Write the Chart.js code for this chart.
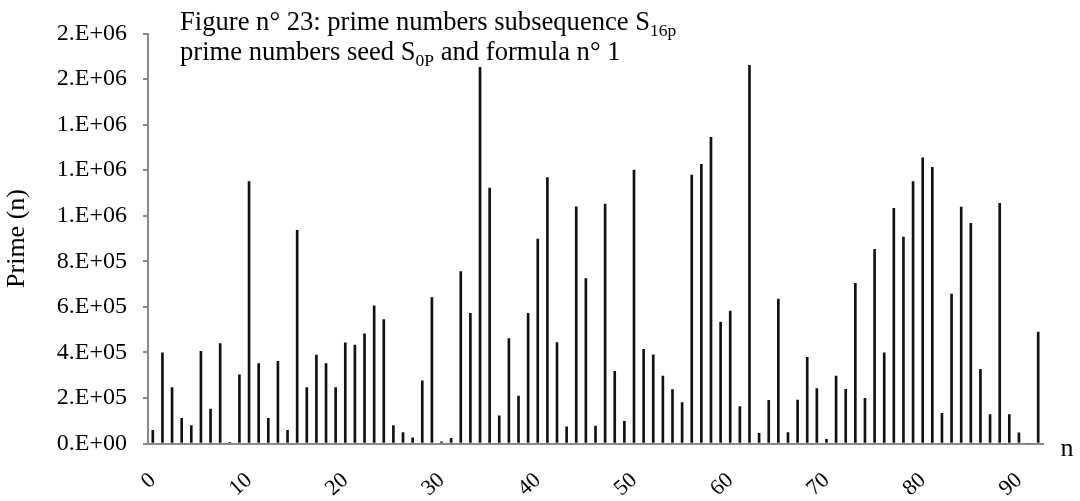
<!DOCTYPE html>
<html><head><meta charset="utf-8">
<script src="https://cdn.jsdelivr.net/npm/chart.js@4.4.0/dist/chart.umd.min.js"></script>
<style>html,body{margin:0;padding:0;background:#fff}#wrap{width:1080px;height:501px;position:relative}</style>
</head><body><div id="wrap"><canvas id="c" width="1080" height="501"></canvas></div>
<script>
const categories = ['0','1','2','3','4','5','6','7','8','9','10','11','12','13','14','15','16','17','18','19','20','21','22','23','24','25','26','27','28','29','30','31','32','33','34','35','36','37','38','39','40','41','42','43','44','45','46','47','48','49','50','51','52','53','54','55','56','57','58','59','60','61','62','63','64','65','66','67','68','69','70','71','72','73','74','75','76','77','78','79','80','81','82','83','84','85','86','87','88','89','90','91','92'];
const primeValues = [58000,398000,246000,111000,79000,405000,151000,439000,5000,301000,
1150000,351000,110000,361000,58000,936000,246000,388000,351000,246000,
442000,432000,481000,604000,544000,79000,48000,25000,275000,641000,
7000,23000,755000,571000,1651000,1121000,121000,461000,208000,571000,
897000,1168000,443000,73000,1039000,724000,77000,1051000,317000,97000,
1200000,413000,389000,296000,237000,180000,1178000,1226000,1344000,533000,
581000,162000,1660000,45000,190000,634000,48000,191000,378000,241000,
18000,296000,238000,703000,198000,853000,398000,1032000,906000,1150000,
1254000,1213000,132000,656000,1038000,967000,326000,127000,1054000,127000,
47000,0,489000];
const xTickLabels = ['0','10','20','30','40','50','60','70','80','90'];
const yTickLabels = ['0.E+00','2.E+05','4.E+05','6.E+05','8.E+05','1.E+06','1.E+06','1.E+06','2.E+06','2.E+06'];
const yTitle = 'Prime (n)';
const xTitle = 'n';
const titleLine1 = [['Figure n° 23: prime numbers subsequence S', false], ['16p', true]];
const titleLine2 = [['prime numbers seed S', false], ['0P', true], [' and formula n° 1', false]];

const FONT = "'Liberation Serif', 'Times New Roman', serif";
const AXIS = '#898989';

const textPlugin = {
  id: 'texts',
  afterDraw(chart) {
    const ctx = chart.ctx;
    ctx.save();
    ctx.fillStyle = '#000';
    ctx.textBaseline = 'alphabetic';
    ctx.textAlign = 'left';
    const drawLine = (parts, x, y) => {
      for (const [t, sub] of parts) {
        ctx.font = (sub ? '17.5px ' : '26.6px ') + FONT;
        ctx.fillText(t, x, sub ? y + 5.5 : y);
        x += ctx.measureText(t).width;
      }
    };
    drawLine(titleLine1, 180, 30);
    drawLine(titleLine2, 180, 60);
    ctx.font = '26px ' + FONT;
    ctx.textAlign = 'center';
    ctx.textBaseline = 'middle';
    ctx.fillText(xTitle, 1067, 449);
    ctx.restore();
  }
};

new Chart(document.getElementById('c'), {
  type: 'bar',
  data: {
    labels: categories,
    datasets: [{ data: primeValues, backgroundColor: '#111', barThickness: 2, borderWidth: 0 }]
  },
  options: {
    responsive: false,
    animation: false,
    devicePixelRatio: 1,
    layout: { padding: { left: 0, right: 37, top: 33.5, bottom: 0 } },
    plugins: { legend: { display: false }, tooltip: { enabled: false } },
    scales: {
      x: {
        type: 'category',
        offset: true,
        grid: { display: true, drawOnChartArea: false, drawTicks: false },
        border: { color: AXIS, width: 2 },
        ticks: {
          autoSkip: false, minRotation: 42, maxRotation: 42, padding: 24,
          color: '#000', font: { family: FONT, size: 22 },
          callback: (v, i) => (i % 10 === 0 ? xTickLabels[i / 10] : '')
        },
        afterFit: s => { s.height = 501 - 443.5; s.paddingLeft = 0; s.paddingRight = 0; }
      },
      y: {
        min: 0, max: 1800000,
        ticks: {
          stepSize: 200000, padding: 16, color: '#000',
          font: { family: FONT, size: 24 },
          callback: (v, i) => yTickLabels[i]
        },
        grid: { drawOnChartArea: false, tickLength: 5, color: AXIS, lineWidth: 2 },
        border: { color: AXIS, width: 2 },
        title: { display: true, text: yTitle, color: '#000', font: { family: FONT, size: 26 }, padding: { top: 2, bottom: 0 } },
        afterFit: s => { s.width = 148; s.paddingTop = 0; s.paddingBottom = 0; }
      }
    }
  },
  plugins: [textPlugin]
});
</script>
</body></html>
